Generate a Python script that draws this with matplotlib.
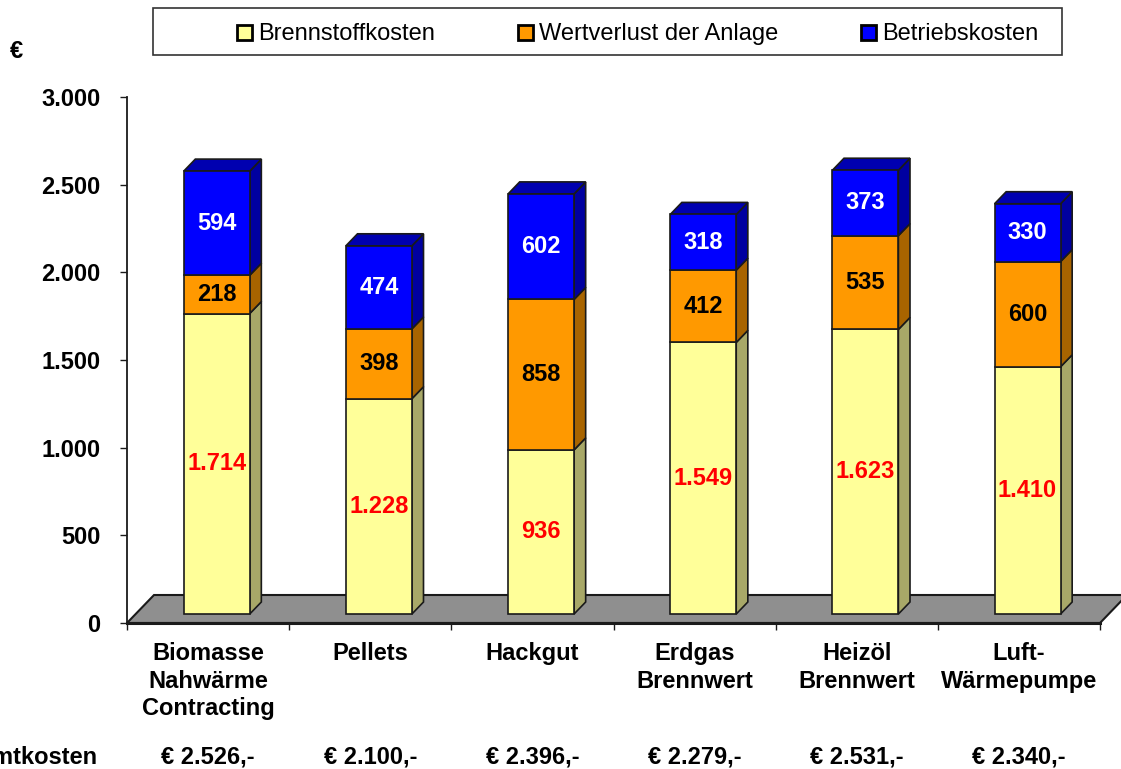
import matplotlib
matplotlib.use("Agg")
import matplotlib.pyplot as plt
from matplotlib.patches import Polygon, Rectangle
from matplotlib.transforms import blended_transform_factory

plt.rcParams['font.family'] = ['Liberation Sans', 'DejaVu Sans']

# ---------------- data ----------------
categories = ["Biomasse\nNahwärme\nContracting", "Pellets", "Hackgut",
              "Erdgas\nBrennwert", "Heizöl\nBrennwert", "Luft-\nWärmepumpe"]
series_names = ["Brennstoffkosten", "Wertverlust der Anlage", "Betriebskosten"]
brennstoff = [1714, 1228, 936, 1549, 1623, 1410]
wertverlust = [218, 398, 858, 412, 535, 600]
betrieb = [594, 474, 602, 318, 373, 330]
y_ticks = [0, 500, 1000, 1500, 2000, 2500, 3000]
total_label = "Gesamtkosten"

series = [brennstoff, wertverlust, betrieb]
front_colors = ["#FFFF99", "#FF9900", "#0000FF"]
side_colors = ["#A8A868", "#A86400", "#0000A0"]
top_colors = ["#D0D080", "#C87800", "#0000B0"]
label_colors = ["#FF0000", "#000000", "#FFFFFF"]


def de(v):
    return f"{v:,}".replace(",", ".")


W, H = 1121, 769
fig = plt.figure(figsize=(W / 100, H / 100), dpi=100)
ax_l, ax_r, ax_b, ax_t = 127, 1100, 623, 97
ax = fig.add_axes([ax_l / W, 1 - ax_b / H, (ax_r - ax_l) / W, (ax_b - ax_t) / H])
n = len(categories)
ax.set_xlim(0, n)
ax.set_ylim(0, 3000)

# depth of the floor in data units (27 px right, 28 px up)
px_x = (ax_r - ax_l) / n
px_y = (ax_b - ax_t) / 3000
DX = 27 / px_x
DY = 28 / px_y
f_front, f_back = 0.32, 0.75
bar_w = 66 / px_x

# floor
floor = Polygon([(0, 0), (n, 0), (n + DX, DY), (DX, DY)], closed=True,
                facecolor="#8F8F8F", edgecolor="#1A1A1A", lw=1.5,
                clip_on=False, zorder=1)
ax.add_patch(floor)

ox, oy = f_front * DX, f_front * DY
ddx, ddy = (f_back - f_front) * DX, (f_back - f_front) * DY
ec = "#1A1A1A"
lw = 1.2

for i in range(n):
    x0 = i + 0.5 - bar_w / 2 + ox
    x1 = x0 + bar_w
    base = oy
    for s in range(3):
        v = series[s][i]
        y0, y1 = base, base + v
        ax.add_patch(Rectangle((x0, y0), bar_w, v, facecolor=front_colors[s],
                               edgecolor=ec, lw=lw, zorder=3, clip_on=False))
        ax.add_patch(Polygon([(x1, y0), (x1 + ddx, y0 + ddy), (x1 + ddx, y1 + ddy), (x1, y1)],
                             closed=True, facecolor=side_colors[s], edgecolor=ec,
                             lw=lw, zorder=2, clip_on=False))
        if s == 2:
            ax.add_patch(Polygon([(x0, y1), (x1, y1), (x1 + ddx, y1 + ddy), (x0 + ddx, y1 + ddy)],
                                 closed=True, facecolor=top_colors[s], edgecolor=ec,
                                 lw=lw, zorder=2, clip_on=False))
        ax.text(x0 + bar_w / 2, (y0 + y1) / 2, de(v), ha="center", va="center",
                fontsize=17, fontweight="bold", color=label_colors[s], zorder=5)
        base = y1

# axes styling
for sp in ["top", "right"]:
    ax.spines[sp].set_visible(False)
ax.spines["left"].set_color("#1A1A1A")
ax.spines["left"].set_linewidth(1.3)
ax.spines["bottom"].set_color("#1A1A1A")
ax.spines["bottom"].set_linewidth(2.2)
ax.spines["bottom"].set_zorder(6)

ax.set_yticks(y_ticks)
ax.set_yticklabels([de(t) for t in y_ticks])
ax.tick_params(axis="y", direction="out", length=5, width=1, pad=14,
               labelsize=17, color="#1A1A1A")
for lab in ax.get_yticklabels():
    lab.set_fontweight("bold")

ax.set_xticks(range(n + 1))
ax.set_xticklabels([])
ax.tick_params(axis="x", which="major", direction="out", length=5, width=1, color="#1A1A1A")
ax.set_xticks([i + 0.5 for i in range(n)], minor=True)
ax.set_xticklabels(categories, minor=True, fontsize=17, fontweight="bold",
                   linespacing=1.24)
ax.tick_params(axis="x", which="minor", length=0, pad=14)

# totals row
trans = blended_transform_factory(ax.transData, fig.transFigure)
y_tot = 1 - 757 / H
for i in range(n):
    tot = brennstoff[i] + wertverlust[i] + betrieb[i]
    ax.text(i + 0.5, y_tot, f"€ {de(tot)},-", transform=trans, ha="center",
            va="center", fontsize=17, fontweight="bold")
fig.text(97 / W, y_tot, total_label, ha="right", va="center", fontsize=17,
         fontweight="bold")

# euro unit
fig.text(10 / W, 1 - 51 / H, "€", ha="left", va="center", fontsize=17, fontweight="bold")

# legend (frame + entries laid out in pixels, text on a common baseline)
fig.patches.append(Rectangle((153 / W, 1 - 55 / H), (1062 - 153) / W, 47 / H,
                             transform=fig.transFigure, facecolor="white",
                             edgecolor="#333333", lw=1.2, zorder=0))
renderer = fig.canvas.get_renderer()
xpos = 237.0
sq = 15.0
for s, name in enumerate(series_names):
    fig.patches.append(Rectangle((xpos / W, 1 - 39.5 / H), sq / W, sq / H,
                                 transform=fig.transFigure, facecolor=front_colors[s],
                                 edgecolor="black", lw=2, zorder=2))
    t = fig.text((xpos + sq + 6) / W, 1 - 40 / H, name, ha="left", va="baseline",
                 fontsize=17)
    wpx = t.get_window_extent(renderer=renderer).width
    xpos = xpos + sq + 6 + wpx + 83

fig.savefig("out.png", dpi=100)
